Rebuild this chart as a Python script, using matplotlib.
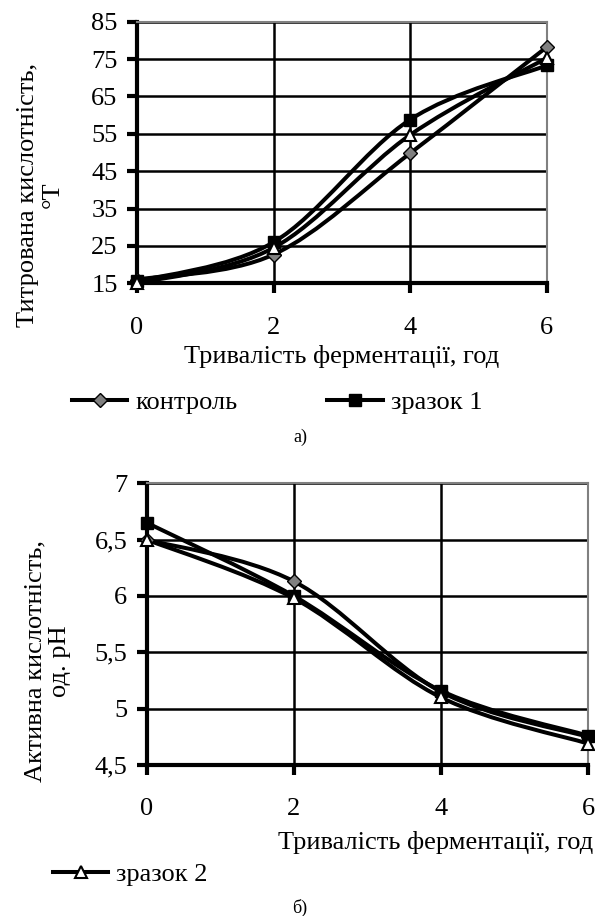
import numpy as np
import matplotlib
matplotlib.use("Agg")
import matplotlib.pyplot as plt
from matplotlib.path import Path
from matplotlib.patches import PathPatch
from matplotlib.lines import Line2D

plt.rcParams['font.family'] = ['Liberation Serif', 'DejaVu Serif']

hours = [0, 2, 4, 6]
# Titratable acidity, °T
ta_control = [16, 22.7, 49.8, 78.2]
ta_sample1 = [15.5, 26.0, 58.8, 73.3]
ta_sample2 = [15.0, 24.5, 54.7, 75.3]
ta_ticks = [15, 25, 35, 45, 55, 65, 75, 85]
# Active acidity, pH
ph_control = [6.5, 6.13, 5.15, 4.75]
ph_sample1 = [6.65, 6.0, 5.16, 4.76]
ph_sample2 = [6.5, 5.98, 5.1, 4.69]
ph_ticks = [4.5, 5.0, 5.5, 6.0, 6.5, 7.0]
ph_ticklabels = ['4,5', '5', '5,5', '6', '6,5', '7']
x_ticks = [0, 2, 4, 6]

series_names = ['контроль', 'зразок 1', 'зразок 2']
FS = 19
W, H = 595, 916


def smooth_path(x, y):
    x = np.asarray(x, float); y = np.asarray(y, float)
    n = len(x)
    verts = [(x[0], y[0])]
    codes = [Path.MOVETO]
    for i in range(n - 1):
        xp, yp = (x[i - 1], y[i - 1]) if i > 0 else (x[i], y[i])
        xn2, yn2 = (x[i + 2], y[i + 2]) if i + 2 < n else (x[i + 1], y[i + 1])
        c1 = (x[i] + (x[i + 1] - xp) / 6, y[i] + (y[i + 1] - yp) / 6)
        c2 = (x[i + 1] - (xn2 - x[i]) / 6, y[i + 1] - (yn2 - y[i]) / 6)
        verts += [c1, c2, (x[i + 1], y[i + 1])]
        codes += [Path.CURVE4] * 3
    return Path(verts, codes)


styles = [
    dict(marker='D', markerfacecolor='#808080', markeredgecolor='black', markersize=7, markeredgewidth=1),
    dict(marker='s', markerfacecolor='black', markeredgecolor='black', markersize=9, markeredgewidth=1),
    dict(marker='^', markerfacecolor='white', markeredgecolor='black', markersize=9, markeredgewidth=1.5),
]
LW = 2.9


def draw(ax, data):
    for d in data:
        ax.add_patch(PathPatch(smooth_path(hours, d), facecolor='none', edgecolor='black', lw=LW,
                               zorder=3, capstyle='round', joinstyle='round'))
    for d, st in zip(data, styles):
        ax.plot(hours, d, linestyle='none', zorder=4, clip_on=False, **st)


def style_axes(ax):
    ax.grid(True, color='black', lw=1.8)
    ax.set_axisbelow(True)
    for s in ['top', 'right']:
        ax.spines[s].set_color('#808080')
        ax.spines[s].set_linewidth(1.5)
    for s in ['left', 'bottom']:
        ax.spines[s].set_color('black')
        ax.spines[s].set_linewidth(3)
    ax.tick_params(axis='both', direction='out', length=7, width=3, labelsize=FS, color='black')
    ax.tick_params(axis='x', pad=17)
    ax.tick_params(axis='y', pad=7)
    ax.set_xlim(0, 6)
    ax.set_xticks(x_ticks)


fig = plt.figure(figsize=(W / 100, H / 100), dpi=100)

# top chart
ax1 = fig.add_axes([137 / W, 1 - 283.3 / H, (546.7 - 137) / W, (283.3 - 21.7) / H])
style_axes(ax1)
ax1.set_ylim(15, 85)
ax1.set_yticks(ta_ticks)
draw(ax1, [ta_control, ta_sample1, ta_sample2])
fig.text((137 + 546.7) / 2 / W, 1 - 356 / H, 'Тривалість ферментації, год', ha='center', va='center', fontsize=FS)
fig.text(40 / W, 1 - 195 / H, 'Титрована кислотність,\n°Т', rotation=90, ha='center', va='center',
         multialignment='center', fontsize=FS, linespacing=1.15)

h = [Line2D([], [], color='black', lw=LW, **st) for st in styles]
fig.legend(h[:2], series_names[:2], loc='center left', bbox_to_anchor=(72 / W, 1 - 402 / H), ncol=2,
           frameon=False, fontsize=FS, handlelength=2.1, handletextpad=0.3, columnspacing=3.4,
           borderpad=0, borderaxespad=0)
fig.text(300 / W, 1 - 437 / H, 'а)', ha='center', va='center', fontsize=13)

# bottom chart
ax2 = fig.add_axes([146.7 / W, 1 - 765 / H, (588 - 146.7) / W, (765 - 483.3) / H])
style_axes(ax2)
ax2.set_ylim(4.5, 7)
ax2.set_yticks(ph_ticks)
ax2.set_yticklabels(ph_ticklabels)
draw(ax2, [ph_control, ph_sample1, ph_sample2])
fig.text(593 / W, 1 - 843 / H, 'Тривалість ферментації, год', ha='right', va='center', fontsize=FS)
fig.text(48 / W, 1 - 661 / H, 'Активна кислотність,\nод. рН', rotation=90, ha='center', va='center',
         multialignment='center', fontsize=FS, linespacing=1.15)
fig.legend(h[2:], series_names[2:], loc='center left', bbox_to_anchor=(53 / W, 1 - 874 / H),
           frameon=False, fontsize=FS, handlelength=2.1, handletextpad=0.3, borderpad=0, borderaxespad=0)
fig.text(300 / W, 1 - 908 / H, 'б)', ha='center', va='center', fontsize=13)

fig.savefig('out.png', dpi=100, facecolor='white')
